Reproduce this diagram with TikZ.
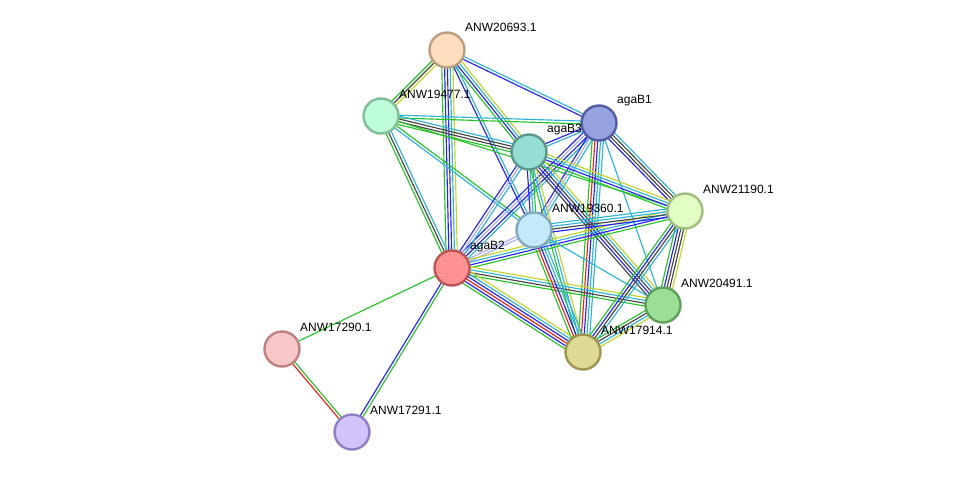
\documentclass[tikz,border=0pt]{standalone}
\usepackage{fontspec}
\setmainfont{Liberation Sans}
\usetikzlibrary{calc,backgrounds}
\definecolor{cG}{RGB}{40,195,40}
\definecolor{cR}{RGB}{240,30,30}
\definecolor{cB}{RGB}{35,35,250}
\definecolor{cK}{RGB}{70,70,70}
\definecolor{cC}{RGB}{45,180,215}
\definecolor{cY}{RGB}{195,212,40}
\definecolor{cH}{RGB}{170,170,250}
\tikzset{
  eG/.style={draw=cG,line width=1.15pt},
  eR/.style={draw=cR,line width=1.15pt},
  eB/.style={draw=cB,line width=1.15pt},
  eK/.style={draw=cK,line width=1.15pt},
  eC/.style={draw=cC,line width=1.15pt},
  eY/.style={draw=cY,line width=1.15pt},
  eH/.style={draw=cH,line width=1.15pt},
  prot/.style={circle,minimum size=35pt,inner sep=0pt,line width=2.4pt},
  lbl/.style={anchor=west,inner sep=0pt,font=\fontsize{12pt}{14pt}\selectfont}
}
\newcount\ecount
\newcommand\sedge[3]{%
  \global\ecount=0
  \foreach \c in {#3}{\global\advance\ecount by 1}%
  \foreach \c [count=\i] in {#3}{%
    \pgfmathsetmacro\off{(\i-(\the\ecount+1)/2)*2.8}%
    \draw[\c] ($(#1)!\off pt!90:(#2)$) -- ($(#2)!\off pt!-90:(#1)$);
  }%
}
\begin{document}
\begin{tikzpicture}[x=1pt,y=-1pt]
\useasboundingbox (0,0) rectangle (976,477);
% nodes
\node[prot,fill={rgb,255:red,254;green,220;blue,190},draw={rgb,255:red,190;green,158;blue,128}] (n20693) at (447,50) {};
\node[prot,fill={rgb,255:red,190;green,253;blue,218},draw={rgb,255:red,128;green,190;blue,152}] (n19477) at (381,116) {};
\node[prot,fill={rgb,255:red,150;green,162;blue,224},draw={rgb,255:red,82;green,92;blue,160}] (agaB1) at (599,123) {};
\node[prot,fill={rgb,255:red,150;green,222;blue,212},draw={rgb,255:red,90;green,150;blue,140}] (agaB3) at (529,152) {};
\node[prot,fill={rgb,255:red,226;green,254;blue,196},draw={rgb,255:red,160;green,190;blue,128}] (n21190) at (685,211) {};
\node[prot,fill={rgb,255:red,196;green,232;blue,252},draw={rgb,255:red,130;green,168;blue,190}] (n19360) at (534,230) {};
\node[prot,fill={rgb,255:red,254;green,146;blue,146},draw={rgb,255:red,190;green,84;blue,84}] (agaB2) at (452,268) {};
\node[prot,fill={rgb,255:red,156;green,222;blue,150},draw={rgb,255:red,92;green,160;blue,90}] (n20491) at (663,305) {};
\node[prot,fill={rgb,255:red,222;green,218;blue,150},draw={rgb,255:red,158;green,150;blue,80}] (n17914) at (583,352) {};
\node[prot,fill={rgb,255:red,248;green,200;blue,200},draw={rgb,255:red,190;green,128;blue,128}] (n17290) at (282,349) {};
\node[prot,fill={rgb,255:red,212;green,196;blue,254},draw={rgb,255:red,146;green,126;blue,196}] (n17291) at (352,432) {};
% labels
\node[lbl] (l20693) at (465,27) {ANW20693.1};
\node[lbl] (l19477) at (399,94) {ANW19477.1};
\node[lbl] (lagaB1) at (617,101) {agaB1};
\node[lbl] (lagaB3) at (547,130) {agaB3};
\node[lbl] (l21190) at (703,189) {ANW21190.1};
\node[lbl] (l19360) at (552,208) {ANW19360.1};
\node[lbl] (lagaB2) at (470,247) {agaB2};
\node[lbl] (l20491) at (681,283) {ANW20491.1};
\node[lbl] (l17914) at (601,330) {ANW17914.1};
\node[lbl] (l17290) at (300,327) {ANW17290.1};
\node[lbl] (l17291) at (370,410) {ANW17291.1};
% edges
\begin{pgfonlayer}{background}
\sedge{n20693}{n19477}{eG,eK,eY}
\sedge{n20693}{agaB2}{eG,eB,eB,eC,eY}
\sedge{n20693}{agaB1}{eB,eC}
\sedge{n20693}{agaB3}{eG,eB,eC,eY}
\sedge{n20693}{n19360}{eB,eC}
\sedge{n19477}{agaB1}{eG,eC}
\sedge{n19477}{agaB3}{eG,eK,eK,eC}
\sedge{n19477}{agaB2}{eG,eK,eC}
\sedge{n19477}{n19360}{eC,eG}
\sedge{n19477}{n21190}{eG}
\sedge{agaB1}{agaB3}{eB,eC}
\sedge{agaB1}{agaB2}{eB,eH,eB,eC}
\sedge{agaB1}{n19360}{eB,eH,eC}
\sedge{agaB1}{n21190}{eB,eK,eK,eC}
\sedge{agaB1}{n17914}{eG,eR,eB,eC,eC}
\sedge{agaB1}{n20491}{eC}
\sedge{agaB3}{agaB2}{eB,eH,eC}
\sedge{agaB3}{n19360}{eB,eC,eG}
\sedge{agaB3}{n21190}{eG,eB,eC,eY}
\sedge{agaB3}{n20491}{eK,eB,eK,eC,eY}
\sedge{agaB3}{n17914}{eG,eC,eY}
\sedge{agaB2}{n19360}{eH,eH}
\sedge{agaB2}{n21190}{eG,eB,eC,eY}
\sedge{agaB2}{n20491}{eG,eK,eC,eY}
\sedge{agaB2}{n17914}{eG,eB,eR,eB,eC,eY}
\sedge{agaB2}{n17290}{eG}
\sedge{agaB2}{n17291}{eB,eG}
\sedge{n19360}{n21190}{eB,eK,eC,eC}
\sedge{n19360}{n17914}{eG,eR,eB,eC,eC}
\sedge{n19360}{n20491}{eC}
\sedge{n21190}{n20491}{eG,eB,eK,eK,eY}
\sedge{n21190}{n17914}{eG,eB,eK,eC}
\sedge{n20491}{n17914}{eG,eK,eC,eY}
\sedge{n17290}{n17291}{eR,eG}
\end{pgfonlayer}
\end{tikzpicture}
\end{document}
